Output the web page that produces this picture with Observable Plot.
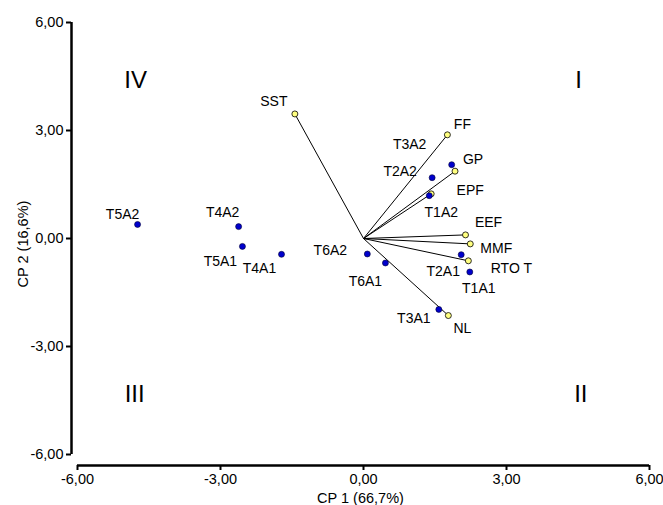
<!DOCTYPE html>
<html><head><meta charset="utf-8">
<script src="https://cdn.jsdelivr.net/npm/d3@7"></script>
<script src="https://cdn.jsdelivr.net/npm/@observablehq/plot@0.6"></script>
<style>body{margin:0;background:#fff}</style>
</head><body><div id="chart"></div>
<script>
// Treatments (blue scores)
const treatNames = ["T5A2","T4A2","T5A1","T4A1","T6A2","T6A1","T3A1","T2A1","T1A1","T1A2","T2A2","T3A2"];
const treatX = [-4.74,-2.62,-2.54,-1.72,0.08,0.46,1.58,2.05,2.23,1.38,1.44,1.85];
const treatY = [0.39,0.33,-0.22,-0.44,-0.43,-0.68,-1.97,-0.45,-0.93,1.19,1.69,2.05];
// Variables (yellow loadings)
const varNames = ["SST","FF","GP","EPF","EEF","MMF","RTO T","NL"];
const varX = [-1.44,1.76,1.92,1.42,2.14,2.24,2.20,1.78];
const varY = [3.46,2.88,1.87,1.24,0.10,-0.15,-0.62,-2.14];
// Quadrant labels
const quadNames = ["IV","I","III","II"];
const quadX = [-4.78,4.51,-4.80,4.56];
const quadY = [4.39,4.39,-4.33,-4.33];
const tickVals = [-6,-3,0,3,6];

const treats = treatNames.map((n,i)=>({name:n,x:treatX[i],y:treatY[i]}));
const vars = varNames.map((n,i)=>({name:n,x:varX[i],y:varY[i]}));
const quads = quadNames.map((n,i)=>({name:n,x:quadX[i],y:quadY[i]}));

// label offsets (pixels) – style only
const off = {
  T5A2:[-15,-10],T4A2:[-16,-14],T5A1:[-22,15],T4A1:[-22,14],T6A2:[-37,-3],T6A1:[-20,19],
  T3A1:[-25,9],T2A1:[-18,17],T1A1:[9,17],T1A2:[12,17],T2A2:[-32,-6],T3A2:[-42,-20],
  SST:[-21,-12],FF:[15,-10],GP:[18,-12],EPF:[39,-3],EEF:[23,-12],MMF:[26,5],"RTO T":[43,8],NL:[14,13]
};
const fmt = d => d.toFixed(2).replace(".",",");
const labels = [...treats, ...vars].map(d=>({...d, dx:off[d.name][0], dy:off[d.name][1]}));

const chart = Plot.plot({
  width: 663, height: 505,
  marginTop: 22, marginBottom: 40, marginLeft: 71, marginRight: 14,
  insetLeft: 6, insetBottom: 11,
  style: {fontFamily: "Liberation Sans, Arial, sans-serif", fontSize: "14px", color:"#000", background:"#fff"},
  x: {domain: [-6,6]},
  y: {domain: [-6,6]},
  marks: [
    Plot.axisX({ticks: tickVals, tickFormat: fmt, tickSize: 5, strokeWidth: 2, fontSize: 14.5, tickPadding: 3,
      label: "CP 1 (66,7%)", labelAnchor: "center", labelOffset: 37, labelArrow: "none"}),
    Plot.axisY({ticks: tickVals, tickFormat: fmt, tickSize: 5, strokeWidth: 2, fontSize: 14.5, tickPadding: 3,
      label: "CP 2 (16,6%)", labelAnchor: "center", labelOffset: 54, labelArrow: "none"}),
    Plot.ruleX([-6], {y1: -6, y2: 6, dx: -6, strokeWidth: 2.5, stroke: "#000"}),
    Plot.ruleY([-6], {x1: -6, x2: 6, dy: 11, strokeWidth: 2.5, stroke: "#000"}),
    Plot.link(vars, {x1: 0, y1: 0, x2: "x", y2: "y", stroke: "#000", strokeWidth: 1}),
    Plot.dot(vars, {x: "x", y: "y", r: 3, fill: "#ffff80", stroke: "#000", strokeWidth: 0.8}),
    Plot.dot(treats, {x: "x", y: "y", r: 3, fill: "#0000cc", stroke: "#000033", strokeWidth: 0.6}),
    ...labels.map(d => Plot.text([d], {x: "x", y: "y", text: "name", dx: d.dx, dy: d.dy, fontSize: 14, fill: "#000"})),
    Plot.text(quads, {x: "x", y: "y", text: "name", fontSize: 24, fill: "#000"})
  ]
});
document.getElementById("chart").appendChild(chart);
</script></body></html>
